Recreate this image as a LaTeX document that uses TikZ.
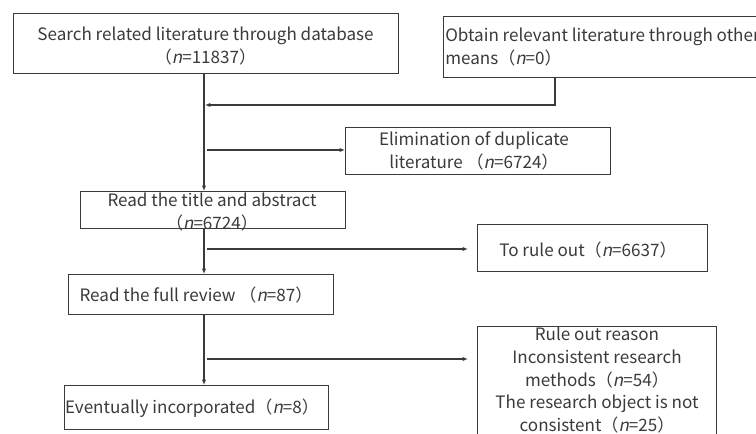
\documentclass[tikz,border=0pt]{standalone}
\usepackage{fontspec}
\setmainfont{Noto Sans CJK SC}[AutoFakeSlant=0.2]
\usetikzlibrary{arrows.meta}
\definecolor{ink}{HTML}{3A3A3A}
\begin{document}
\begin{tikzpicture}[x=0.75pt,y=-0.75pt,
  box/.style={draw=ink,line width=0.9pt,rectangle,inner sep=0pt,anchor=north west},
  txt/.style={text=ink,font=\fontsize{12.8}{17}\selectfont,inner sep=0pt,align=center},
  conn/.style={draw=ink,line width=0.9pt},
  arr/.style={conn,-{Latex[length=4pt,width=3.2pt]}}]
\useasboundingbox (0,0) rectangle (756,434);
\clip (0,0) rectangle (756,434);
% boxes
\node[box,minimum width=385*0.75pt,minimum height=60*0.75pt] (b1) at (13,13) {};
\node[txt] (t1) at (205.5,46) {Search related literature through database\\（\textit{n}=11837）};
\node[box,minimum width=347*0.75pt,minimum height=61*0.75pt] (b2) at (443,16) {};
\node[txt,align=left,anchor=west] (t2) at (445,47) {Obtain relevant literature through other\\means（\textit{n}=0）};
\node[box,minimum width=265*0.75pt,minimum height=47*0.75pt] (el) at (345,127) {};
\node[txt] (tel) at (474,151) {Elimination of duplicate\\literature （\textit{n}=6724）};
\node[box,minimum width=265*0.75pt,minimum height=37*0.75pt] (b3) at (80,191) {};
\node[txt] (t3) at (212,212) {Read the title and abstract\\（\textit{n}=6724）};
\node[box,minimum width=230*0.75pt,minimum height=47*0.75pt] (r1) at (477,224) {};
\node[txt] (tr1) at (588,250) {To rule out（\textit{n}=6637）};
\node[box,minimum width=265*0.75pt,minimum height=40*0.75pt] (b4) at (68,274) {};
\node[txt] (t4) at (196,295) {Read the full review （\textit{n}=87）};
\node[box,minimum width=239*0.75pt,minimum height=150*0.75pt] (r2) at (477,326) {};
\node[txt,anchor=north] (tr2) at (597,327) {Rule out reason\\Inconsistent research\\methods（\textit{n}=54）\\The research object is not\\consistent（\textit{n}=25）};
\node[box,minimum width=264*0.75pt,minimum height=44*0.75pt] (b5) at (64,385) {};
\node[txt] (t5) at (192,408) {Eventually incorporated（\textit{n}=8）};
% junction coordinates
\coordinate (j0) at (204,73);
\coordinate (j1) at (205,105);
\coordinate (j2) at (555,105);
\coordinate (s1) at (207,150);
\coordinate (s2) at (207,249);
\coordinate (s3) at (207,359);
% connectors
\draw[arr] (j0) -- (204,191);
\draw[arr] (b2.south west -| j2) -- (j2) -- (j1);
\draw[arr] (s1) -- (s1 -| el.west);
\draw[arr] (204,228) -- (204,274);
\draw[arr] (s2) -- (468,249);
\draw[arr] (204,314) -- (204,385);
\draw[arr] (s3) -- (468,359);
\end{tikzpicture}
\end{document}
